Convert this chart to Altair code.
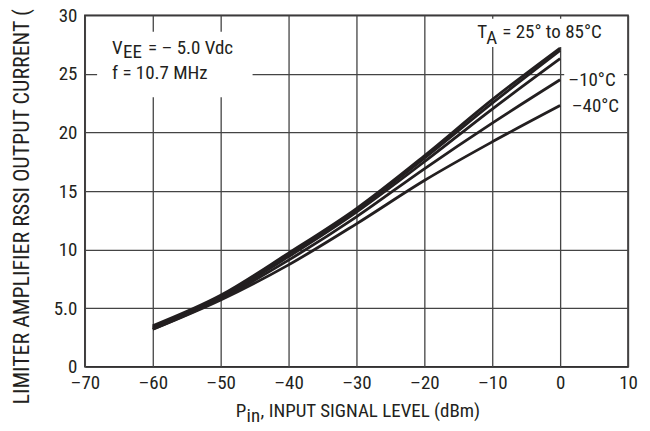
import altair as alt
import pandas as pd

# ---- data ----
pin = [-60, -50, -40, -30, -20, -10, 0]
i_85 = [3.5, 6.1, 9.7, 13.5, 18.0, 22.8, 27.2]
i_25 = [3.4, 6.0, 9.6, 13.4, 17.8, 22.5, 27.0]
i_0 = [3.3, 5.9, 9.4, 13.2, 17.5, 22.0, 26.3]
i_m10 = [3.2, 5.8, 9.1, 12.8, 16.9, 20.8, 24.5]
i_m40 = [3.2, 5.7, 8.7, 12.2, 15.9, 19.2, 22.3]
series = {"85°C": i_85, "25°C": i_25, "0°C": i_0, "-10°C": i_m10, "-40°C": i_m40}

x_ticks = [-70, -60, -50, -40, -30, -20, -10, 0, 10]
y_ticks = [0, 5, 10, 15, 20, 25, 30]

rows = []
for name, vals in series.items():
    for xv, yv in zip(pin, vals):
        rows.append({"x": xv, "y": yv, "temp": name})
df = pd.DataFrame(rows)

FONT = "Liberation Sans Narrow, Arial Narrow, Roboto Condensed, DejaVu Sans Condensed, sans-serif"
INK = "#231f20"
GRID = "#444444"
FS = 19

xscale = alt.Scale(domain=[-70, 10], nice=False, zero=False)
yscale = alt.Scale(domain=[0, 30], nice=False)

XAX = alt.Axis(
    values=x_ticks, title=None, ticks=False, domain=False, grid=True,
    gridColor=GRID, gridWidth=1.3, labelFont=FONT, labelFontSize=FS, labelColor=INK,
    labelPadding=7, labelFlush=False, labelOverlap=False,
    labelExpr="datum.value < 0 ? '–' + abs(datum.value) : '' + datum.value")
YAX = alt.Axis(
    values=y_ticks, title="LIMITER AMPLIFIER RSSI OUTPUT CURRENT (µA)",
    ticks=False, domain=False, grid=True, gridColor=GRID, gridWidth=1.3,
    labelFont=FONT, labelFontSize=FS, labelColor=INK, labelPadding=8,
    labelExpr="datum.value == 5 ? '5.0' : '' + datum.value",
    titleFont=FONT, titleFontSize=22, titleFontWeight="normal", titleColor=INK,
    titleLimit=1000, titleX=-63, titleY=176, titleAlign="center",
    titleBaseline="middle", titleAngle=270)

X = alt.X("x:Q", scale=xscale, axis=XAX)
Y = alt.Y("y:Q", scale=yscale, axis=YAX)

lines = alt.Chart(df).mark_line(color=INK, strokeWidth=2.8, interpolate="monotone").encode(
    x=X, y=Y, detail="temp:N",
)

# white boxes behind annotations (interrupt the grid like the original)
boxes = pd.DataFrame({
    "x": [-68.2, -13.5, 0.6],
    "x2": [-45.3, 8.0, 9.4],
    "y": [23.0, 27.3, 23.6],
    "y2": [28.6, 29.7, 25.9],
})
rects = alt.Chart(boxes).mark_rect(color="white").encode(
    x=X, x2="x2:Q", y=Y, y2="y2:Q",
)


def label(text, x, y, dx=0, dy=0, align="left"):
    d = pd.DataFrame({"x": [x], "y": [y], "t": [text]})
    return alt.Chart(d).mark_text(
        align=align, baseline="alphabetic", dx=dx, dy=dy,
        font=FONT, fontSize=FS, color=INK
    ).encode(x=X, y=Y, text="t:N")


def plabel(text, px, py, align="left"):
    d = pd.DataFrame({"t": [text]})
    return alt.Chart(d).mark_text(
        align=align, baseline="alphabetic", font=FONT, fontSize=FS, color=INK
    ).encode(x=alt.value(px), y=alt.value(py), text="t:N")


texts = [
    label("V", -66.0, 26.7),
    label("EE", -66.0, 26.7, dx=11, dy=4),
    label("= – 5.0 Vdc", -66.0, 26.7, dx=36),
    label("f = 10.7 MHz", -66.0, 24.6),
    label("T", -12.2, 28.05),
    label("A", -12.2, 28.05, dx=9, dy=6),
    label("= 25° to 85°C", -12.2, 28.05, dx=25),
    label("–10°C", 1.2, 24.0),
    label("–40°C", 1.7, 21.75),
    plabel("P", 151, 402),
    plabel("in", 162, 407),
    plabel(", INPUT SIGNAL LEVEL (dBm)", 176, 402),
]

chart = alt.layer(rects, lines, *texts).properties(
    width=544, height=352,
    padding={"left": 77, "top": 7, "right": 14, "bottom": 60},
    autosize=alt.AutoSizeParams(type="none"),
).configure_view(stroke=INK, strokeWidth=1.5)

chart.save("out.html", embed_options={"renderer": "svg", "actions": False})
